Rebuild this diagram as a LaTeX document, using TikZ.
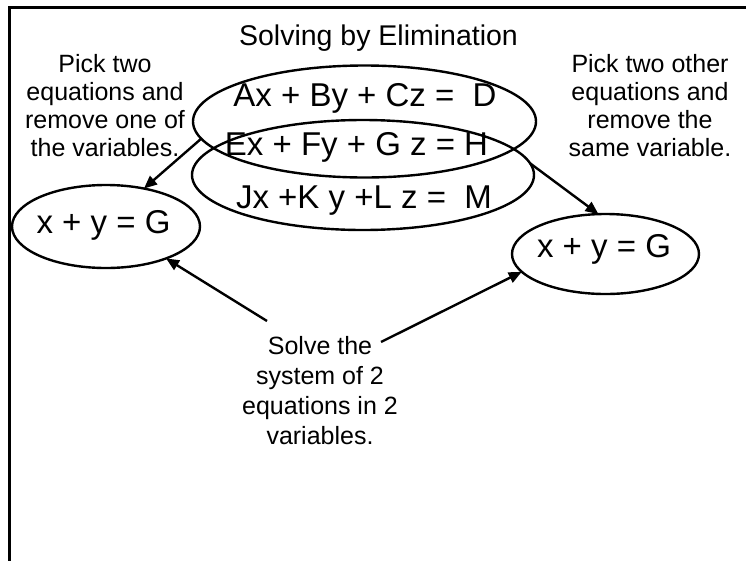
\documentclass[tikz,border=0pt]{standalone}
\usepackage{fontspec}
\setmainfont{Liberation Sans}
\usetikzlibrary{arrows.meta,shapes.geometric}
\newcommand{\Head}{\fontsize{28.5}{34}\selectfont}
\newcommand{\Note}{\fontsize{25}{28}\selectfont}
\newcommand{\Eqn}{\fontsize{33}{39}\selectfont}
\tikzset{
  eqring/.style={draw,ellipse,line width=2.4pt,inner sep=0pt,outer sep=0pt},
  note/.style={anchor=north,align=center,inner sep=0pt,font=\Note},
  pointer/.style={line width=2.4pt,-{Triangle[length=13pt,width=11pt]}}}

\begin{document}
\begin{tikzpicture}[x=1pt,y=-1pt]
  \useasboundingbox (0,0) rectangle (746,560);
  \draw[line width=3pt] (9,565) |- (750,7);
  \node[anchor=base,font=\Head,inner sep=0pt] (title) at (378.5,45) {Solving by Elimination};
  % the three equations and the two pairs picked from them
  \node[eqring,minimum width=343,minimum height=112] (sysA) at (364.5,121.5) {};
  \node[eqring,minimum width=342,minimum height=110] (sysB) at (363,175) {};
  \foreach \nm/\x/\y/\eq in {eqA/365/106.7/{Ax + By + Cz =~ D}, eqB/356.5/155/{Ex + Fy + G z = H},
      eqC/364/208/{Jx +K y +L z =~ M}}{
    \node[anchor=base,font=\Eqn,inner sep=0pt] (\nm) at (\x,\y) {\eq};}
  \node[eqring,minimum width=188,minimum height=83] (pairL) at (106,226.5) {};
  \node[anchor=base,font=\Eqn,inner sep=0pt] (pairLtxt) at (103.5,233.3) {x + y = G};
  \node[eqring,minimum width=187,minimum height=80] (pairR) at (605.5,254) {};
  \node[anchor=base,font=\Eqn,inner sep=0pt] (pairRtxt) at (604,257) {x + y = G};
  % side notes
  \node[note] (pickL) at (105,54.5) {Pick two\\equations and\\remove one of\\the variables.};
  \node[note] (pickR) at (650,54.5) {Pick two other\\equations and\\remove the\\same variable.};
  \node[note,font=\fontsize{25}{30}\selectfont] (solve) at (320,336) {Solve the\\system of 2\\equations in 2\\variables.};
  \coordinate (solveL) at (267,321);
  \coordinate (solveR) at (381,342);
  \draw[pointer] (sysA.186) -- (pairL.45);
  \draw[pointer] (sysB.4) -- (pairR.100);
  \draw[pointer] (solveL) -- (pairL.-28);
  \draw[pointer] (solveR) -- (pairR.192);
\end{tikzpicture}
\end{document}
